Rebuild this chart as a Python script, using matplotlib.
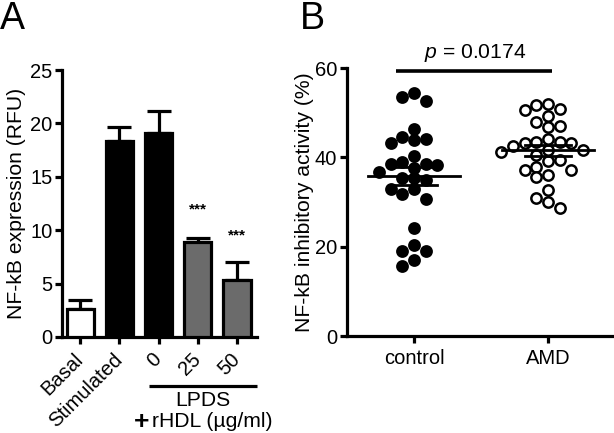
import matplotlib

matplotlib.use("Agg")
import matplotlib.pyplot as plt
import matplotlib.transforms as mtransforms
import numpy as np

plt.rcParams["font.family"] = ["Liberation Sans", "DejaVu Sans"]
plt.rcParams["mathtext.fontset"] = "custom"
plt.rcParams["mathtext.rm"] = "Liberation Sans"
plt.rcParams["mathtext.it"] = "Liberation Sans:italic"

# ---------------------------------------------------------------------------
# Datos panel A (barras, media + error)
# ---------------------------------------------------------------------------
grupos_a = ["Basal", "Stimulated", "0", "25", "50"]
expresion = [2.62, 18.36, 19.14, 8.89, 5.36]
error_sup = [0.87, 1.28, 2.03, 0.37, 1.62]
colores_a = ["white", "black", "black", "#6b6b6b", "#6b6b6b"]
signif = ["", "", "", "***", "***"]
signif_y = [0, 0, 0, 11.9, 9.5]

# ---------------------------------------------------------------------------
# Datos panel B (puntos individuales)
# ---------------------------------------------------------------------------
grupos_b = ["control", "AMD"]
control = [54.3, 53.5, 52.6, 46.3, 44.6, 44.0, 43.8, 43.3, 40.3,
           38.9, 38.6, 38.6, 38.3, 37.7, 36.8, 35.3, 35.3, 35.0,
           33.0, 32.8, 31.9, 30.6, 24.2, 20.4, 19.0, 19.0, 17.0, 15.7]
amd = [51.9, 51.7, 50.9, 50.7, 49.2, 47.8, 47.0, 46.7, 44.0, 43.5,
       43.5, 43.3, 43.3, 42.5, 41.6, 41.6, 41.3, 40.5, 39.3, 39.1,
       37.9, 37.1, 37.1, 36.0, 35.5, 32.7, 30.8, 29.9, 28.6]
p_texto = "$p$ = 0.0174"
p_nivel = 59.3


def desplazamientos(valores, paso, dy_min):
    # colocacion tipo "beeswarm": cada punto va a la columna libre mas cercana
    orden = np.argsort(valores)[::-1]
    puestos = []
    salida = np.zeros(len(valores))
    candidatos = [0, -1, 1, -2, 2, -3, 3, -4, 4]
    for i in orden:
        v = valores[i]
        for c in candidatos:
            if all(not (s == c and abs(pv - v) < dy_min) for s, pv in puestos):
                salida[i] = c * paso
                puestos.append((c, v))
                break
    return salida


fig = plt.figure(figsize=(6.14, 4.33), dpi=100)

LW = 2.3
TAM = 14.5
TAM_ETIQ = 15.2

# ---------------------------------------------------------------------------
# Panel A
# ---------------------------------------------------------------------------
ax_a = fig.add_axes([62 / 614, 1 - 337 / 433, 195 / 614, 267 / 433])
x_a = np.arange(len(grupos_a))
ax_a.bar(x_a, expresion, width=0.69, color=colores_a, edgecolor="black",
         linewidth=LW, zorder=3)
ax_a.errorbar(x_a, expresion, yerr=[np.zeros(len(x_a)), error_sup], fmt="none",
              ecolor="black", elinewidth=LW, capsize=8.5, capthick=LW, zorder=2)
for xi, s, yy in zip(x_a, signif, signif_y):
    if s:
        ax_a.text(xi, yy, s, ha="center", va="center", fontsize=11, fontweight="bold")

ax_a.set_xlim(-0.46, 4.51)
ax_a.set_ylim(0, 25)
ax_a.set_yticks([0, 5, 10, 15, 20, 25])
ax_a.set_xticks(x_a)
ax_a.set_xticklabels(grupos_a, rotation=45, ha="right", va="center",
                     rotation_mode="anchor")
desplaza = mtransforms.ScaledTranslation(0.04, 0, fig.dpi_scale_trans)
for etiqueta in ax_a.get_xticklabels():
    etiqueta.set_transform(etiqueta.get_transform() + desplaza)
ax_a.set_ylabel("NF-kB expression (RFU)", fontsize=TAM_ETIQ, labelpad=3)

# linea LPDS + rHDL bajo los ultimos tres grupos
trans_a = mtransforms.blended_transform_factory(ax_a.transData, ax_a.transAxes)
ax_a.plot([1.77, 4.51], [-0.185, -0.185], color="black", lw=LW,
          transform=trans_a, clip_on=False, solid_capstyle="butt")
ax_a.text(3.12, -0.237, "LPDS", transform=trans_a, ha="center", va="center",
          fontsize=TAM_ETIQ)
ax_a.text(1.56, -0.345, "+", transform=trans_a, ha="center", va="baseline",
          fontsize=19, fontweight="bold")
ax_a.text(1.84, -0.318, "rHDL (µg/ml)", transform=trans_a, ha="left",
          va="center", fontsize=TAM_ETIQ)

# ---------------------------------------------------------------------------
# Panel B
# ---------------------------------------------------------------------------
ax_b = fig.add_axes([347 / 614, 1 - 336 / 433, 266 / 614, 268 / 433])
paso = 11.7 / 134
dy = 10.5 / (268 / 60)
for xi, datos, relleno in zip([0, 1], [control, amd], ["black", "white"]):
    datos = np.array(datos)
    xs = xi + desplazamientos(datos, paso, dy)
    ax_b.scatter(xs, datos, s=55, facecolor=relleno, edgecolor="black",
                 linewidth=1.8, zorder=3, clip_on=False)
    media = datos.mean()
    sem = datos.std(ddof=1) / np.sqrt(len(datos))
    ax_b.plot([xi - 0.34, xi + 0.34], [media, media], color="black", lw=2.0, zorder=4)
    for lim in (media - sem, media + sem):
        ax_b.plot([xi - 0.175, xi + 0.175], [lim, lim], color="black", lw=2.0, zorder=4)

ax_b.plot([-0.134, 1.03], [p_nivel, p_nivel], color="black", lw=2.6,
          clip_on=False, solid_capstyle="butt")
ax_b.text(0.455, p_nivel + 1.6, p_texto, ha="center", va="bottom", fontsize=TAM_ETIQ)

ax_b.set_xlim(-0.5, 1.485)
ax_b.set_ylim(0, 60)
ax_b.set_yticks([0, 20, 40, 60])
ax_b.set_xticks([0, 1])
ax_b.set_xticklabels(grupos_b)
ax_b.set_ylabel("NF-kB inhibitory activity (%)", fontsize=TAM_ETIQ, labelpad=1)

for ax in (ax_a, ax_b):
    for lado in ("top", "right"):
        ax.spines[lado].set_visible(False)
    for lado in ("left", "bottom"):
        ax.spines[lado].set_linewidth(LW)
    ax.tick_params(width=LW, length=5, labelsize=TAM, pad=2)

ax_a.tick_params(axis="x", pad=9)
ax_b.tick_params(axis="x", pad=4)

fig.text(0 / 614, 1 - 1 / 433, "A", fontsize=27, ha="left", va="top")
fig.text(300 / 614, 1 - 1 / 433, "B", fontsize=27, ha="left", va="top")

fig.savefig("out.png", dpi=100)
plt.close(fig)
